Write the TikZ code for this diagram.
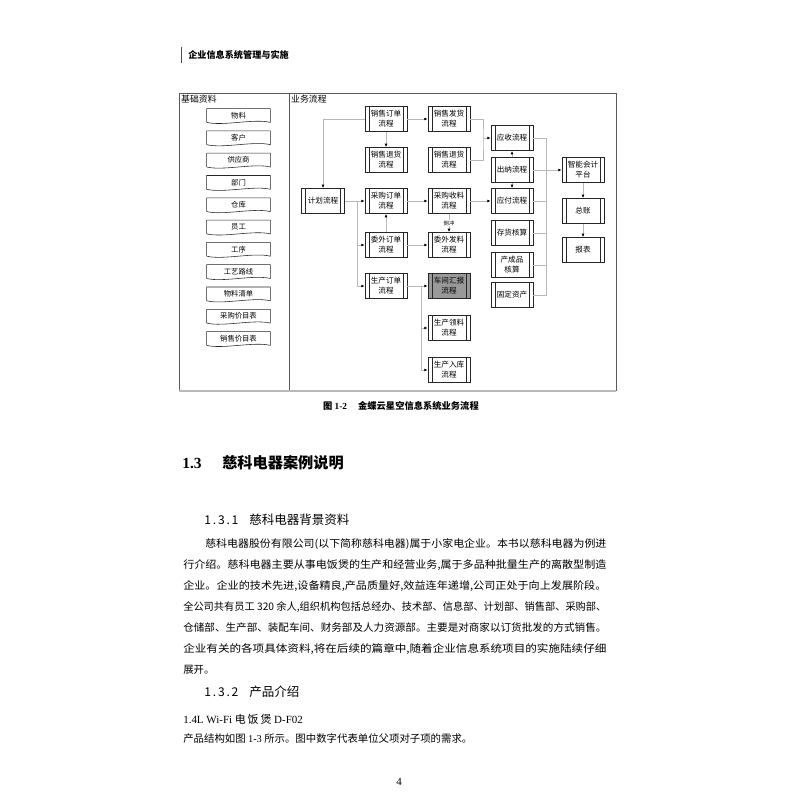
\documentclass[tikz,border=0pt]{standalone}
\usepackage{fontspec}
\usepackage{graphicx}
\setmainfont{Liberation Serif}
\newfontfamily\cjk{Noto Sans CJK SC}
\usetikzlibrary{arrows.meta, calc}

\definecolor{linegray}{gray}{0.72}
\definecolor{framegray}{gray}{0.35}
\definecolor{procgray}{gray}{0.6}

\newcommand\bodyfont{\cjk\fontsize{7.4}{9}\selectfont}

\tikzset{
	proc/.style={draw=black!85, line width=0.4pt, minimum width=1.05cm, minimum height=0.63cm,
		inner sep=0pt, align=center, font=\cjk\fontsize{5.4}{7}\selectfont,
		path picture={
			\draw[black!85] ([xshift=2.8pt]path picture bounding box.north west) -- ([xshift=2.8pt]path picture bounding box.south west);
			\draw[black!85] ([xshift=-2.8pt]path picture bounding box.north east) -- ([xshift=-2.8pt]path picture bounding box.south east);
		}},
	docu/.style={minimum width=1.575cm, minimum height=0.33cm, inner sep=0pt, font=\cjk\fontsize{5.2}{6}\selectfont},
	flow/.style={draw=linegray, line width=0.5pt, -{Latex[color=black, length=2.4pt, width=2pt]}},
	conn/.style={draw=linegray, line width=0.5pt},
	bodyline/.style={anchor=west, inner sep=0pt, font=\bodyfont},
}

\begin{document}
\begin{tikzpicture}[x=0.025cm, y=-0.025cm]
	
	% Page
	\fill[white] (0,0) rectangle (800,800);
	\path[use as bounding box] (0,0) rectangle (800,800);
	
	% Running head
	\draw[black!70, line width=0.5pt] (181,47) -- (181,63);
	\node[anchor=west, inner sep=0pt, font=\cjk\bfseries\fontsize{6.5}{8}\selectfont] (hdr) at (188,55) {企业信息系统管理与实施};
	
	% Figure frame
	\draw[framegray, line width=0.6pt] (179,93) rectangle (616,390);
	\draw[framegray, line width=0.6pt] (289,93) -- (289,390);
	\draw[gray!55, line width=1.4pt] (179,391) -- (616,391);
	\node[anchor=north west, inner sep=1pt, font=\cjk\fontsize{6.3}{7}\selectfont] (basis) at (179.5,93.5) {基础资料};
	\node[anchor=north west, inner sep=1pt, font=\cjk\fontsize{6.3}{7}\selectfont] (flowlbl) at (289.5,93.5) {业务流程};
	
	% Master data documents
	\foreach \name/\txt [count=\i] in {mat/物料, cust/客户, supp/供应商, dept/部门, wh/仓库, emp/员工, op/工序, route/工艺路线, bom/物料清单, ppl/采购价目表, spl/销售价目表}
	{
		\node[docu] (\name) at (238.5,{115.5+22.3*(\i-1)}) {\txt};
		\draw[black!85, line width=0.4pt] (\name.south west) -- (\name.north west) -- (\name.north east) -- (\name.south east)
			.. controls +(-16,-4) and +(16,4) .. (\name.south west);
	}
	
	% Business processes
	\node[proc] (sod) at (386,119) {销售订单\\流程};
	\node[proc] (sdl) at (449,119) {销售发货\\流程};
	\node[proc] (srtA) at (386,160) {销售退货\\流程};
	\node[proc] (srtB) at (449,160) {销售退货\\流程};
	\node[proc, minimum width=1.075cm] (plan) at (323,201) {计划流程};
	\node[proc] (pod) at (386,201) {采购订单\\流程};
	\node[proc] (prc) at (449,201) {采购收料\\流程};
	\node[proc] (ood) at (386,245) {委外订单\\流程};
	\node[proc] (oiss) at (449,245) {委外发料\\流程};
	\node[proc] (mod) at (386,286) {生产订单\\流程};
	\node[proc, fill=procgray] (rpt) at (449,286) {车间汇报\\流程};
	\node[proc] (mis) at (449,328) {生产领料\\流程};
	\node[proc] (min) at (449,370) {生产入库\\流程};
	
	% Finance column
	\node[proc] (ar) at (512,138) {应收流程};
	\node[proc] (cash) at (512,170) {出纳流程};
	\node[proc] (ap) at (512,201) {应付流程};
	\node[proc] (inv) at (512,233) {存货核算};
	\node[proc] (cost) at (512,265) {产成品\\核算};
	\node[proc] (fa) at (512,295) {固定资产};
	
	% Ledger column
	\node[proc] (plat) at (583,170) {智能会计\\平台};
	\node[proc] (gl) at (583,211) {总账};
	\node[proc] (rep) at (583,250) {报表};
	
	% Connectors
	\draw[flow] (sod) -- (sdl);
	\draw[flow] (sod) -- (srtA);
	\draw[flow] (sod.west) -| (plan.north);
	\coordinate (psplit) at ($(plan.east)+(13,0)$);
	\draw[flow] (plan.east) -- (pod.west);
	\draw[flow] (psplit) |- (ood.west);
	\draw[flow] (psplit) |- (mod.west);
	\draw[flow] (ood) -- (pod);
	\draw[flow] (pod) -- (prc);
	\draw[flow] (ood) -- (oiss);
	\draw[flow] (prc) -- node[fill=white, inner sep=0.5pt, font=\cjk\fontsize{3.8}{4}\selectfont] (bflush) {倒冲} (oiss);
	\coordinate (msplit) at ($(mod.east)+(14,0)$);
	\draw[flow] (mod) -- (rpt);
	\draw[flow] (msplit) |- (mis.west);
	\draw[flow] (msplit) |- (min.west);
	\coordinate (ssplit) at (483,138);
	\draw[conn] (sdl.east) -| (ssplit) |- (srtB.east);
	\draw[flow] (ssplit) -- (ar.west);
	\draw[flow] (prc) -- (ap);
	\draw[flow] (cash) -- (ar);
	\draw[flow] (cash) -- (ap);
	\coordinate (fsplit) at (546,138);
	\draw[conn] (ar.east) -| (fsplit) |- (fa.east);
	\foreach \n in {ap, inv, cost}
		\draw[conn] (\n.east) -- (\n.east -| fsplit);
	\draw[flow] (cash) -- (plat);
	\draw[flow] (plat) -- (gl);
	\draw[flow] (gl) -- (rep);
	
	% Caption
	\node[inner sep=0pt, font=\cjk\bfseries\fontsize{6.6}{8}\selectfont] (cap) at (401,406) {图 {\rmfamily\bfseries 1-2}\hspace{1.2em}金蝶云星空信息系统业务流程};
	
	% Section 1.3
	\node[anchor=west, inner sep=0pt, font=\rmfamily\bfseries\fontsize{11}{12}\selectfont] (secno) at (182,463) {1.3};
	\node[anchor=west, inner sep=0pt, font=\cjk\bfseries\fontsize{10.8}{12}\selectfont] (sectitle) at (222,463) {慈科电器案例说明};
	
	% Subsection 1.3.1
	\node[anchor=west, inner sep=0pt, font=\cjk\fontsize{8.6}{10}\selectfont] (subno) at (204,520) {1\kern1.3pt.\kern1.3pt3\kern1.3pt.\kern1.3pt1};
	\node[anchor=west, inner sep=0pt, font=\cjk\fontsize{8.9}{10}\selectfont] (subtitle) at (249,520) {慈科电器背景资料};
	
	% Body text
	\node[bodyline] (l1) at (205,544) {\resizebox{10.025cm}{\height}{慈科电器股份有限公司(以下简称慈科电器)属于小家电企业。本书以慈科电器为例进}};
	\node[bodyline] (l2) at (183,565) {\resizebox{10.575cm}{\height}{行介绍。慈科电器主要从事电饭煲的生产和经营业务,属于多品种批量生产的离散型制造}};
	\node[bodyline] (l3) at (183,586) {\resizebox{10.575cm}{\height}{企业。企业的技术先进,设备精良,产品质量好,效益连年递增,公司正处于向上发展阶段。}};
	\node[bodyline] (l4) at (183,607) {\resizebox{10.575cm}{\height}{全公司共有员工 320 余人,组织机构包括总经办、技术部、信息部、计划部、销售部、采购部、}};
	\node[bodyline] (l5) at (183,628) {\resizebox{10.575cm}{\height}{仓储部、生产部、装配车间、财务部及人力资源部。主要是对商家以订货批发的方式销售。}};
	\node[bodyline] (l6) at (183,649) {\resizebox{10.575cm}{\height}{企业有关的各项具体资料,将在后续的篇章中,随着企业信息系统项目的实施陆续仔细}};
	\node[bodyline] (l7) at (183,670) {展开。};
	
	% Subsection 1.3.2
	\node[anchor=west, inner sep=0pt, font=\cjk\fontsize{8.6}{10}\selectfont] (subno2) at (204,692) {1\kern1.3pt.\kern1.3pt3\kern1.3pt.\kern1.3pt2};
	\node[anchor=west, inner sep=0pt, font=\cjk\fontsize{8.9}{10}\selectfont] (subtitle2) at (249,692) {产品介绍};
	\node[anchor=west, inner sep=0pt, font=\rmfamily\fontsize{7.8}{9}\selectfont] (prod) at (183,719) {1.4L Wi-Fi {\cjk 电\,饭\,煲} D-F02};
	\node[bodyline] (desc) at (183,739) {产品结构如图 {\rmfamily 1-3} 所示。图中数字代表单位父项对子项的需求。};
	
	% Folio
	\node[inner sep=0pt, font=\rmfamily\fontsize{7.8}{9}\selectfont] (folio) at (399,782) {4};
	
\end{tikzpicture}
\end{document}
